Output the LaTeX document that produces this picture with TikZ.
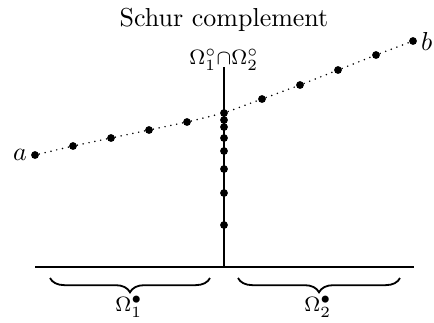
\documentclass[tikz,border=0pt]{standalone}
\usetikzlibrary{decorations.pathreplacing}
\begin{document}
\begin{tikzpicture}[x=0.385pt, y=-0.385pt,
  dot/.style={circle, fill=black, inner sep=0pt, minimum size=3pt},
  axis/.style={line width=0.7pt},
  dotline/.style={line width=0.65pt, line cap=round, dash pattern=on 0pt off 2.3pt},
  bracestyle/.style={line width=0.7pt, decorate, decoration={brace, amplitude=5.5pt}},
  lbl/.style={font=\footnotesize, inner sep=1pt}]
\useasboundingbox (0,0) rectangle (434,322);
% title
\node[anchor=base] (title) at (224,26) {Schur complement};
% axes
\coordinate (vtop) at (224,67);
\coordinate (vbot) at (224,267);
\coordinate (hl) at (35,267);
\coordinate (hr) at (414,267);
\draw[axis] (vtop) -- (vbot);
\draw[axis] (hl) -- (hr);
\node[lbl, anchor=base] (itf) at (224,64) {$\Omega_1^\circ{\cap}\Omega_2^\circ$};
% curve dots
\node[dot] (a) at (35,155) {};
\node[dot] (l1) at (73,146) {};
\node[dot] (l2) at (111,138) {};
\node[dot] (l3) at (149,130) {};
\node[dot] (l4) at (187,122) {};
\node[dot] (m) at (224,113) {};
\node[dot] (r1) at (262,99) {};
\node[dot] (r2) at (300,85) {};
\node[dot] (r3) at (338,70) {};
\node[dot] (r4) at (376,55) {};
\node[dot] (b) at (413,41) {};
\draw[dotline] (a) -- (l1) -- (l2) -- (l3) -- (l4) -- (m) -- (r1) -- (r2) -- (r3) -- (r4) -- (b);
\node[anchor=east, inner sep=1.2pt] (la) at (a.west) {$a$};
\node[anchor=west, inner sep=1.2pt] (lb) at (b.east) {$b$};
% vertical dots
\node[dot] (v1) at (224,120) {};
\node[dot] (v2) at (224,127) {};
\node[dot] (v3) at (224,138) {};
\node[dot] (v4) at (224,151) {};
\node[dot] (v5) at (224,169) {};
\node[dot] (v6) at (224,193) {};
\node[dot] (v7) at (224,225) {};
% braces
\coordinate (b1l) at (50,278);
\coordinate (b1r) at (210,278);
\coordinate (b2l) at (238,278);
\coordinate (b2r) at (400,278);
\draw[bracestyle] (b1r) -- (b1l);
\draw[bracestyle] (b2r) -- (b2l);
\node[lbl, anchor=base] (o1) at (129,311) {$\Omega_1^\bullet$};
\node[lbl, anchor=base] (o2) at (318,311) {$\Omega_2^\bullet$};
\end{tikzpicture}
\end{document}
